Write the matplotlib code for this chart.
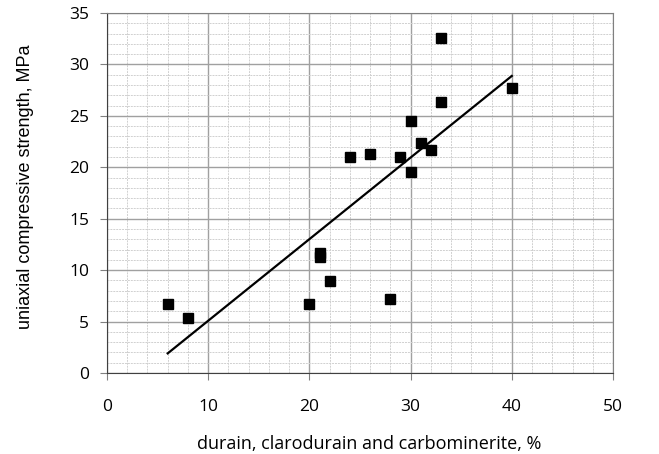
import numpy as np
import matplotlib
matplotlib.use("Agg")
import matplotlib.pyplot as plt
from matplotlib.ticker import MultipleLocator

# coal petrography vs strength
durain = [6, 8, 20, 21, 21, 22, 24, 26, 28, 29, 30, 30, 31, 32, 33, 33, 40]
ucs = [6.7, 5.3, 6.7, 11.7, 11.3, 8.9, 21.0, 21.3, 7.2, 21.0, 24.5, 19.5,
       22.4, 21.7, 32.6, 26.3, 27.7]

x = np.asarray(durain, dtype=float)
y = np.asarray(ucs)
k, b = np.polyfit(x, y, 1)
xl = np.array([x.min(), x.max()])

fig = plt.figure(figsize=(6.59, 4.54), dpi=100)
ax = fig.add_axes([107 / 659, 1 - 373 / 454, 506 / 659, 360 / 454])

ax.plot(xl, k * xl + b, color="black", lw=1.6, zorder=3)
ax.plot(x, y, "s", color="black", ms=7, zorder=4)

ax.set_xlim(0, 50)
ax.set_ylim(0, 35)
ax.xaxis.set_major_locator(MultipleLocator(10))
ax.xaxis.set_minor_locator(MultipleLocator(2))
ax.yaxis.set_major_locator(MultipleLocator(5))
ax.yaxis.set_minor_locator(MultipleLocator(1))
ax.grid(which="major", color="#a0a0a0", lw=1.0)
ax.grid(which="minor", color="#d0d0d0", lw=0.7, ls=(0, (2, 1)))
ax.set_axisbelow(True)

for s in ["top", "right"]:
    ax.spines[s].set_color("#808080")
for s in ["left", "bottom"]:
    ax.spines[s].set_color("#404040")
ax.tick_params(which="major", direction="out", length=5, color="#808080",
               labelsize=12.5)
ax.tick_params(which="minor", length=0)
ax.tick_params(axis="y", pad=8)
ax.tick_params(axis="x", pad=14)
for lab in ax.get_xticklabels() + ax.get_yticklabels():
    lab.set_family("Open Sans")

ax.set_xlabel("durain, clarodurain and carbominerite, %", fontsize=13,
              family="Open Sans")
ax.xaxis.set_label_coords((369 - 107) / 506, -(449 - 373) / 360, transform=ax.transAxes)
ax.xaxis.label.set_va("baseline")
ax.set_ylabel("uniaxial compressive strength, MPa", fontsize=13,
              family="Liberation Sans")
ax.yaxis.set_label_coords(-(107 - 26) / 506, (373 - 187) / 360)
ax.yaxis.label.set_va("center")

fig.savefig("out.png", dpi=100)
